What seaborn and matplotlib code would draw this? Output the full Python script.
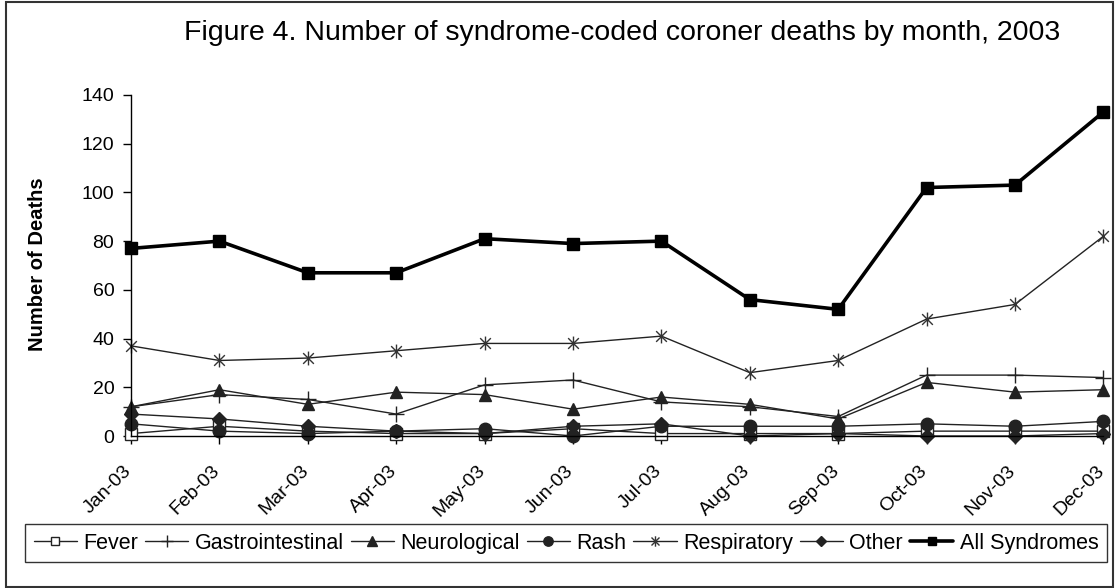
import matplotlib
matplotlib.use("Agg")
import matplotlib.pyplot as plt
from matplotlib.path import Path
from matplotlib.lines import Line2D
from matplotlib.patches import Rectangle
from matplotlib.transforms import ScaledTranslation
import seaborn as sns
import pandas as pd

months = ["Jan-03", "Feb-03", "Mar-03", "Apr-03", "May-03", "Jun-03",
          "Jul-03", "Aug-03", "Sep-03", "Oct-03", "Nov-03", "Dec-03"]

fever = [1, 4, 2, 1, 1, 3, 1, 1, 1, 2, 2, 2]
gastrointestinal = [12, 17, 15, 9, 21, 23, 14, 12, 8, 25, 25, 24]
neurological = [12, 19, 13, 18, 17, 11, 16, 13, 7, 22, 18, 19]
rash = [5, 2, 1, 2, 3, 0, 4, 4, 4, 5, 4, 6]
respiratory = [37, 31, 32, 35, 38, 38, 41, 26, 31, 48, 54, 82]
other = [9, 7, 4, 2, 1, 4, 5, 0, 1, 0, 0, 1]
all_syndromes = [77, 80, 67, 67, 81, 79, 80, 56, 52, 102, 103, 133]

series_names = ["Fever", "Gastrointestinal", "Neurological", "Rash",
                "Respiratory", "Other", "All Syndromes"]
series_values = [fever, gastrointestinal, neurological, rash,
                 respiratory, other, all_syndromes]

y_ticks = [0, 20, 40, 60, 80, 100, 120, 140]

sns.set_theme(style="white")
plt.rcParams["font.family"] = ["Liberation Sans", "DejaVu Sans"]
plt.rcParams["text.color"] = "black"
plt.rcParams["xtick.color"] = "black"
plt.rcParams["ytick.color"] = "black"

# asterisk marker: an X crossed by a vertical stroke
star_path = Path(
    [(-1, -1), (1, 1), (-1, 1), (1, -1), (0, -1.3), (0, 1.3)],
    [Path.MOVETO, Path.LINETO, Path.MOVETO, Path.LINETO, Path.MOVETO, Path.LINETO],
)

dark = "#222222"
styles = {
    "Fever": dict(marker="s", mfc="white", mec=dark, ms=8, lw=1.0, mew=1.0),
    "Gastrointestinal": dict(marker="+", mfc=dark, mec=dark, ms=12, lw=1.0, mew=1.0),
    "Neurological": dict(marker="^", mfc=dark, mec=dark, ms=9, lw=1.0, mew=1.0),
    "Rash": dict(marker="o", mfc=dark, mec=dark, ms=9, lw=1.0, mew=1.0),
    "Respiratory": dict(marker=star_path, mfc="none", mec="#333333", ms=10, lw=1.0, mew=1.0),
    "Other": dict(marker="D", mfc=dark, mec=dark, ms=7, lw=1.0, mew=1.0),
    "All Syndromes": dict(marker="s", mfc="black", mec="black", ms=8, lw=2.6, mew=1.0),
}

fig = plt.figure(figsize=(11.17, 5.88), dpi=100)
ax = fig.add_axes([0.1173, 0.2585, 0.8705, 0.58])

x_idx = list(range(len(months)))
for name, vals in zip(series_names, series_values):
    st = styles[name]
    df = pd.DataFrame({"month": x_idx, "value": vals})
    color = "black" if name == "All Syndromes" else dark
    sns.lineplot(data=df, x="month", y="value", ax=ax, color=color,
                 linewidth=st["lw"], marker=st["marker"], markersize=st["ms"],
                 markerfacecolor=st["mfc"], markeredgecolor=st["mec"],
                 markeredgewidth=st["mew"], clip_on=False, label=name,
                 legend=False)

ax.set_xlim(0, 11)
ax.set_ylim(0, 140)
ax.set_yticks(y_ticks)
ax.set_yticklabels([str(v) for v in y_ticks], fontsize=14)
ax.set_xticks(x_idx)
ax.set_xticklabels(months, rotation=45, ha="right", va="top",
                   rotation_mode="anchor", fontsize=14)
ax.tick_params(axis="both", which="both", direction="out", length=6,
               width=1.0, color="black", left=True, bottom=True)
ax.tick_params(axis="y", pad=6)
ax.tick_params(axis="x", pad=10)
shift = ScaledTranslation(-8 / 100, -4 / 100, fig.dpi_scale_trans)
for lbl in ax.get_xticklabels():
    lbl.set_transform(lbl.get_transform() + shift)
for side in ("top", "right"):
    ax.spines[side].set_visible(False)
for side in ("left", "bottom"):
    ax.spines[side].set_color("black")
    ax.spines[side].set_linewidth(1.0)
ax.set_xlabel("")
ax.set_ylabel("")
ax.grid(False)

fig.text(0.0335, 0.55, "Number of Deaths", rotation=90, ha="center",
         va="center", fontsize=14.5, fontweight="bold")
fig.text(0.557, 0.944, "Figure 4. Number of syndrome-coded coroner deaths by month, 2003",
         ha="center", va="center", fontsize=20.5)

handles = []
for name in series_names:
    st = styles[name]
    color = "black" if name == "All Syndromes" else dark
    handles.append(Line2D([], [], color=color, linewidth=st["lw"],
                          marker=st["marker"], markersize=st["ms"] * 0.75,
                          markerfacecolor=st["mfc"], markeredgecolor=st["mec"],
                          markeredgewidth=st["mew"]))
leg = fig.legend(handles, series_names, loc="center",
                 bbox_to_anchor=(0.0224, 0.0765 - 0.03, 0.9687, 0.06),
                 mode="expand", ncol=7, fontsize=15.5,
                 frameon=True, fancybox=False, handlelength=2.0,
                 handletextpad=0.3, columnspacing=0.3, borderpad=0.4,
                 borderaxespad=0.0, edgecolor="black")
leg.get_frame().set_linewidth(1.0)

# outer frame around the whole figure
fig.patches.append(Rectangle((0.005, 0.002), 0.991, 0.995, transform=fig.transFigure,
                             fill=False, edgecolor="#333333", linewidth=1.5))

fig.savefig("out.png", dpi=100)
